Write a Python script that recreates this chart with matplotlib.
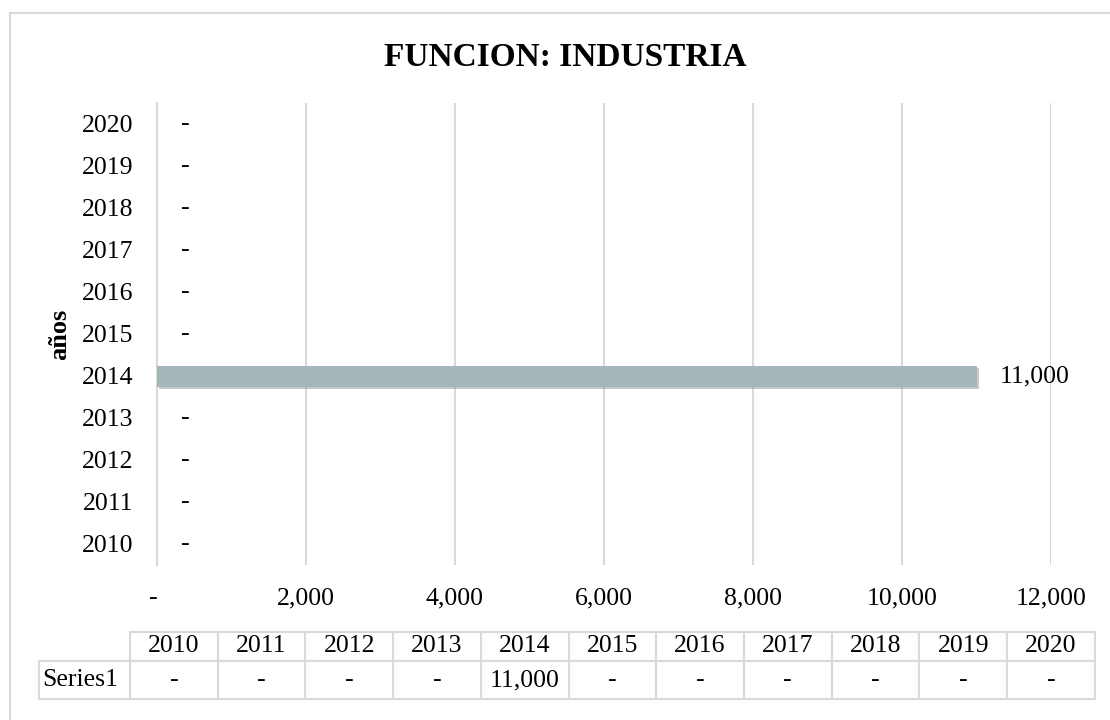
import matplotlib.pyplot as plt
from matplotlib.lines import Line2D
import matplotlib.patheffects as pe

plt.rcParams['font.family'] = ['Liberation Serif', 'DejaVu Serif']

years = ['2010', '2011', '2012', '2013', '2014', '2015', '2016', '2017', '2018', '2019', '2020']
values = [0, 0, 0, 0, 11000, 0, 0, 0, 0, 0, 0]
xticks = [0, 2000, 4000, 6000, 8000, 10000, 12000]
series_name = 'Series1'
title = 'FUNCION: INDUSTRIA'

fmt = lambda v: '-' if v == 0 else f'{v:,.0f}'
grid_c = '#D9D9D9'
bar_c = '#A5B6BA'
W, H = 1110, 720

fig = plt.figure(figsize=(W / 100, H / 100), dpi=100)
# chart-area border: only left and top edges fall inside the picture
fig.add_artist(Line2D([10 / W, 10 / W], [0, 1 - 13 / H], color=grid_c, lw=1.5))
fig.add_artist(Line2D([10 / W, 1], [1 - 13 / H, 1 - 13 / H], color=grid_c, lw=1.5))

ax = fig.add_axes([157 / W, 1 - 565 / H, (1051 - 157) / W, (565 - 103) / H])
ax.barh(range(len(years)), values, height=0.5, color=bar_c, zorder=3,
        path_effects=[pe.SimplePatchShadow(offset=(1.5, -2), shadow_rgbFace='#666666', alpha=0.35),
                      pe.Normal()])
for i, v in enumerate(values):
    ax.annotate(fmt(v), (v, i), xytext=(17, 0), textcoords='offset points',
                ha='left', va='center', fontsize=18.5)

ax.set_xlim(0, 12000)
ax.set_ylim(-0.5, len(years) - 0.5)
ax.set_yticks(range(len(years)), years)
ax.set_xticks(xticks, [fmt(t) + (' ' if t == 0 else '') for t in xticks])
ax.tick_params(axis='y', length=0, pad=17, labelsize=18.5)
ax.tick_params(axis='x', length=0, pad=16, labelsize=18.5)
ax.grid(axis='x', color=grid_c, lw=1.5, zorder=0)
for s in ['top', 'right', 'bottom']:
    ax.spines[s].set_visible(False)
ax.spines['left'].set_color(grid_c)
ax.spines['left'].set_linewidth(1.5)
ax.set_ylabel('años', fontsize=19, fontweight='bold')
ax.yaxis.set_label_coords((71 - 157) / (1051 - 157), 0.5)

fig.text(565 / W, 1 - 57 / H, title, ha='center', va='center', fontsize=24, fontweight='bold')

# data table under the chart
tax = fig.add_axes([0, 0, 1, 1])
tax.axis('off')
cell_text = [[''] + years, [series_name] + [fmt(v) for v in values]]
col_w = [91] + [87.7] * len(years)
tbl = tax.table(cellText=cell_text, colWidths=[c / sum(col_w) for c in col_w],
                cellLoc='center',
                bbox=[39 / W, 1 - 699 / H, sum(col_w) / W, (699 - 632) / H])
tbl.auto_set_font_size(False)
tbl.set_fontsize(18.5)
for (r, c), cell in tbl.get_celld().items():
    cell.set_edgecolor(grid_c)
    cell.set_linewidth(1.5)
    cell.set_height(29 if r == 0 else 38)
    if r == 0 and c == 0:
        cell.visible_edges = 'open'
    if r == 1 and c == 0:
        cell.PAD = 0.04
        cell.get_text().set_ha('left')

fig.savefig('out.png', dpi=100)
